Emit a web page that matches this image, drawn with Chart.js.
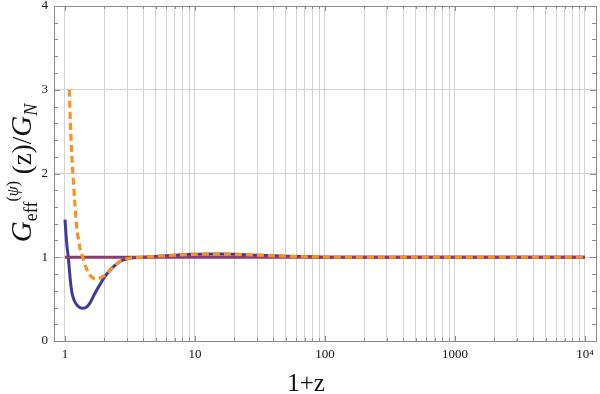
<!DOCTYPE html>
<html lang="en">
<head>
  <meta charset="UTF-8">
  <title>G_eff over G_N against 1+z</title>
  <script src="https://cdn.jsdelivr.net/npm/chart.js"></script>
  <style>
    body { margin: 0; background: #fff; }
  </style>
</head>
<body>
  <canvas id="myChart" width="600" height="394"></canvas>

<script>
// data
const blueX = [1.00, 1.03, 1.06, 1.10, 1.13, 1.18, 1.25, 1.35, 1.45, 1.55, 1.70, 1.85, 2.05, 2.3, 2.65, 3.2, 4, 5, 7, 10, 15, 20, 30, 50, 80, 150, 10000];
const blueY = [1.45, 1.17, 1.00, 0.72, 0.58, 0.48, 0.42, 0.39, 0.40, 0.45, 0.57, 0.67, 0.78, 0.87, 0.95, 0.99, 1.00, 1.01, 1.025, 1.035, 1.038, 1.035, 1.025, 1.012, 1.005, 1.0, 1.0];

const orangeX = [1.08, 1.10, 1.13, 1.15, 1.19, 1.23, 1.30, 1.37, 1.45, 1.55, 1.65, 1.75, 1.9, 2.05, 2.3, 2.65, 3.2, 4, 5, 7, 10, 15, 20, 30, 50, 80, 150, 10000];
const orangeY = [3.00, 2.60, 2.20, 2.00, 1.65, 1.37, 1.12, 1.00, 0.88, 0.79, 0.75, 0.74, 0.76, 0.79, 0.87, 0.95, 0.99, 1.00, 1.01, 1.025, 1.035, 1.038, 1.035, 1.025, 1.012, 1.005, 1.0, 1.0];

const purpleX = [1, 10000];
const purpleY = [1, 1];

const xTicks = [1,2,3,4,5,6,7,8,9,10,20,30,40,50,60,70,80,90,100,200,300,400,500,600,700,800,900,1000,2000,3000,4000,5000,6000,7000,8000,9000,10000];
const xLabels = {1: '1', 10: '10', 100: '100', 1000: '1000', 10000: '10\u2074'};
const yLabels = ['0', '1', '2', '3', '4'];

function pts(xs, ys) {
  return xs.map((x, i) => ({x: x, y: ys[i]}));
}

const serif = '"Liberation Serif", "DejaVu Serif", serif';
const gridCol = '#d2d2d2';
const frameCol = '#8a8a8a';

// frame box + inner ticks + axis titles
const framePlugin = {
  id: 'frame',
  afterDraw(chart) {
    const ctx = chart.ctx, a = chart.chartArea;
    const xs = chart.scales.x, ys = chart.scales.y;
    ctx.save();
    ctx.strokeStyle = frameCol;
    ctx.lineWidth = 1;
    ctx.strokeRect(a.left + 0.5, a.top + 0.5, a.right - a.left, a.bottom - a.top);
    ctx.beginPath();
    xs.ticks.forEach(t => {
      const px = Math.round(xs.getPixelForValue(t.value)) + 0.5;
      const len = xLabels[t.value] ? 5 : 3;
      ctx.moveTo(px, a.bottom); ctx.lineTo(px, a.bottom - len);
      ctx.moveTo(px, a.top); ctx.lineTo(px, a.top + len);
    });
    ys.ticks.forEach(t => {
      const py = Math.round(ys.getPixelForValue(t.value)) + 0.5;
      const major = Math.abs(t.value - Math.round(t.value)) < 1e-6;
      const len = major ? 6 : 4;
      ctx.moveTo(a.left, py); ctx.lineTo(a.left + len, py);
      ctx.moveTo(a.right, py); ctx.lineTo(a.right - len, py);
    });
    ctx.stroke();

    ctx.fillStyle = '#111';
    ctx.textBaseline = 'alphabetic';
    ctx.textAlign = 'center';
    ctx.font = '25px ' + serif;
    ctx.fillText('1+z', 306, 391);

    // y title, drawn piece by piece for sub/superscripts
    const parts = [
      {t: 'G', f: 'italic 29px ', dy: 0},
      {t: 'eff', f: '18px ', dy: 6},
      {t: '(', f: '16px ', dy: -13},
      {t: '\u03c8', f: 'italic 16px ', dy: -13},
      {t: ')', f: '16px ', dy: -13},
      {t: ' (z)/', f: '27px ', dy: 0},
      {t: 'G', f: 'italic 29px ', dy: 0},
      {t: 'N', f: 'italic 18px ', dy: 6}
    ];
    let total = 0;
    parts.forEach(p => { ctx.font = p.f + serif; p.w = ctx.measureText(p.t).width; total += p.w; });
    ctx.translate(31, 173);
    ctx.rotate(-Math.PI / 2);
    ctx.textAlign = 'left';
    let cx = -total / 2;
    parts.forEach(p => {
      ctx.font = p.f + serif;
      ctx.fillText(p.t, cx, p.dy);
      cx += p.w;
    });
    ctx.restore();
  }
};

const data = {
  datasets: [
    {
      data: pts(orangeX, orangeY),
      borderColor: '#f7931e',
      borderWidth: 3.2,
      borderDash: [7, 4],
      order: 0
    },
    {
      data: pts(purpleX, purpleY),
      borderColor: '#8c3a72',
      borderWidth: 3,
      order: 1
    },
    {
      data: pts(blueX, blueY),
      borderColor: '#3c3b98',
      borderWidth: 3,
      order: 2
    }
  ]
};

const config = {
  type: 'line',
  data,
  plugins: [framePlugin],
  options: {
    responsive: false,
    animation: false,
    layout: { padding: { top: 6, right: 4, left: 0, bottom: 0 } },
    elements: {
      point: { radius: 0 },
      line: { cubicInterpolationMode: 'monotone', borderCapStyle: 'butt' }
    },
    plugins: { legend: { display: false }, tooltip: { enabled: false } },
    scales: {
      x: {
        type: 'logarithmic',
        min: 0.823,
        max: 12160,
        afterBuildTicks: s => { s.ticks = xTicks.map(v => ({value: v})); },
        afterFit: s => { s.height = 53; s.paddingLeft = 0; s.paddingRight = 0; },
        border: { display: false },
        grid: { color: gridCol, drawTicks: false },
        ticks: {
          autoSkip: false,
          maxRotation: 0,
          padding: 6,
          color: '#111',
          font: { family: serif, size: 13 },
          callback: v => xLabels[v] || ''
        }
      },
      y: {
        min: 0,
        max: 4,
        afterFit: s => { s.width = 54; s.paddingTop = 0; s.paddingBottom = 0; },
        border: { display: false },
        grid: {
          drawTicks: false,
          color: c => {
            const v = c.tick.value;
            return Math.abs(v - Math.round(v)) < 1e-6 ? gridCol : 'rgba(0,0,0,0)';
          }
        },
        ticks: {
          stepSize: 0.2,
          autoSkip: false,
          padding: 6,
          color: '#111',
          font: { family: serif, size: 13 },
          callback: v => Math.abs(v - Math.round(v)) < 1e-6 ? yLabels[Math.round(v)] : ''
        }
      }
    }
  }
};

const myChart = new Chart(document.getElementById('myChart'), config);
</script>
</body>
</html>
